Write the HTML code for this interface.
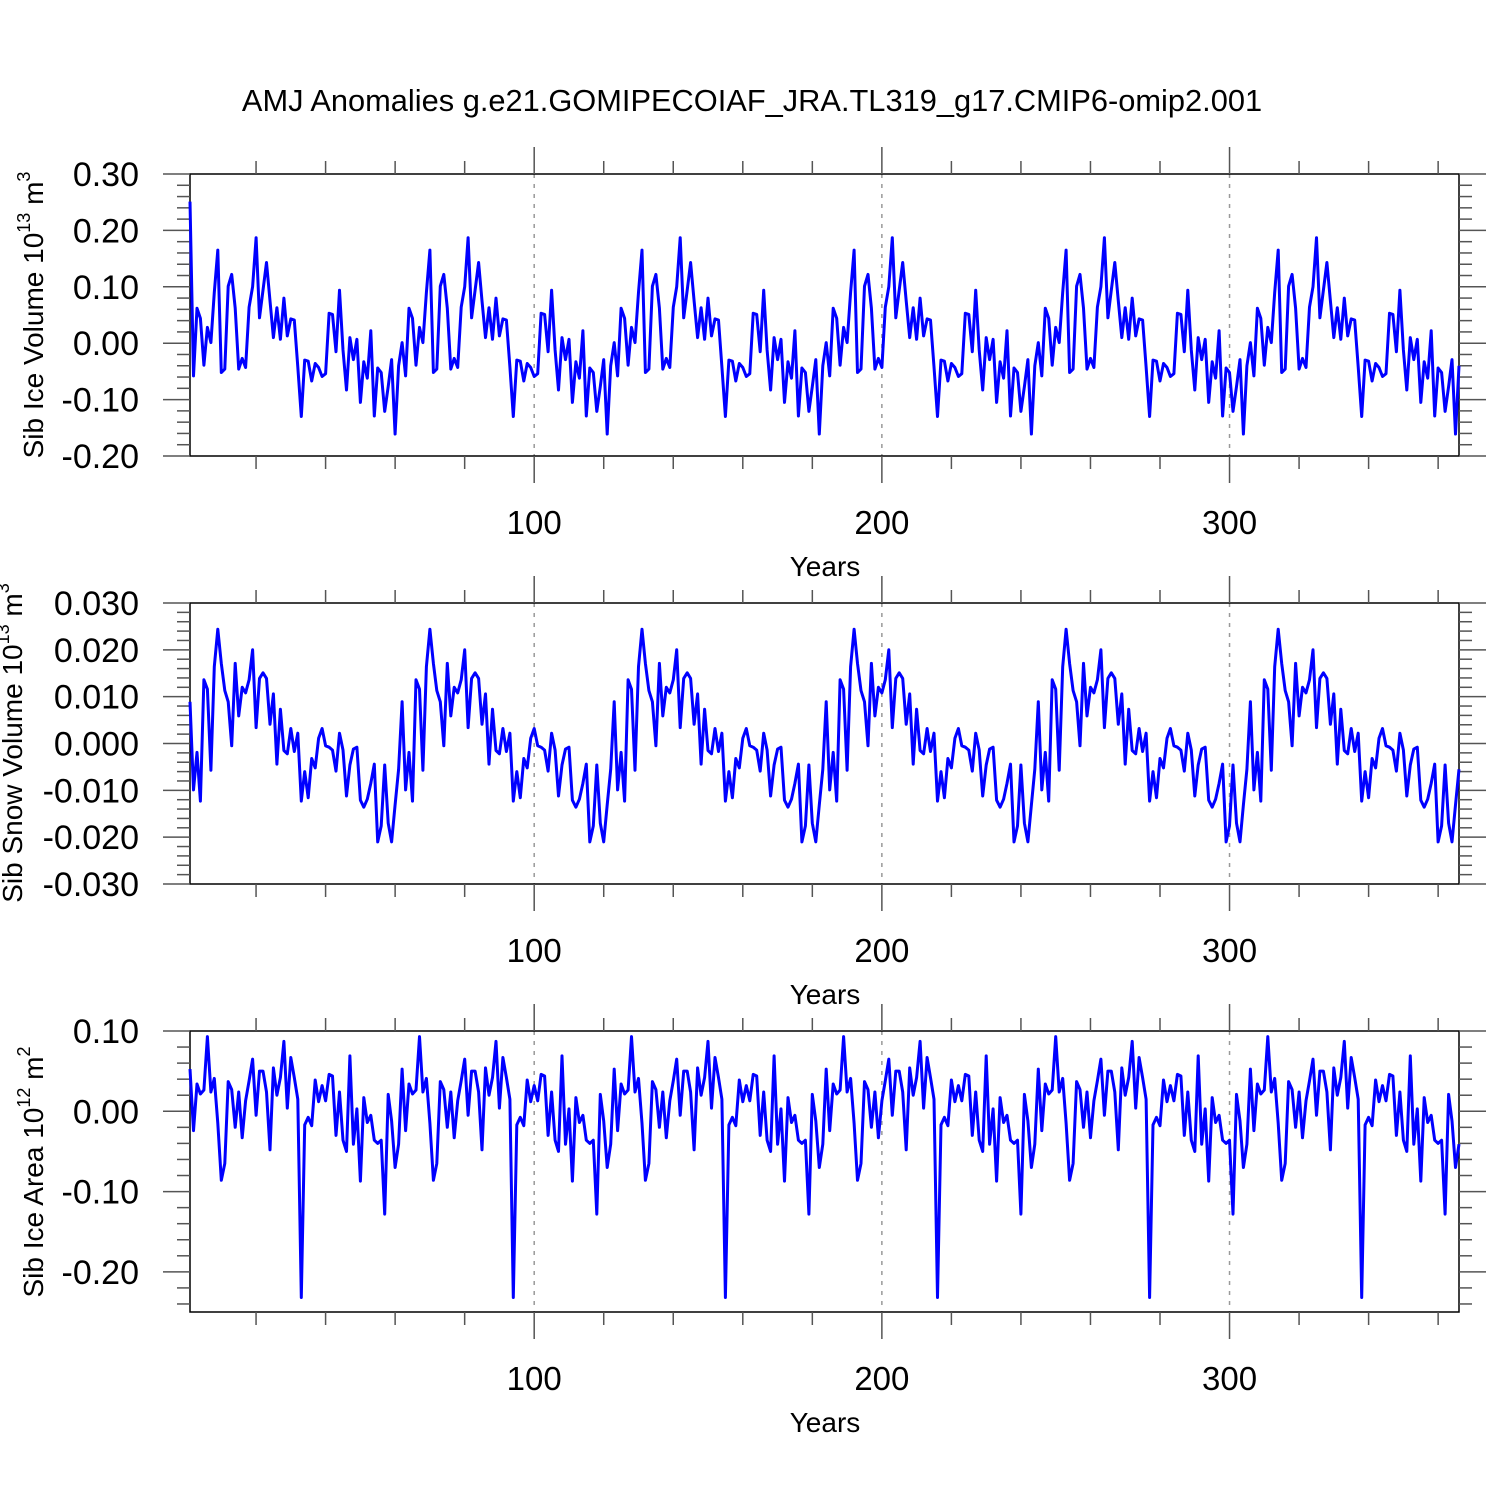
<!DOCTYPE html>
<html><head><meta charset="utf-8"><style>
body{margin:0;background:#fff}
svg text{font-family:"Liberation Sans",Arial,sans-serif;fill:#000}
</style></head><body>
<svg id="chart" width="1500" height="1500" viewBox="0 0 1500 1500" xmlns="http://www.w3.org/2000/svg">
<rect width="1500" height="1500" fill="#fff"/>
<text x="752" y="111" font-size="30.8" text-anchor="middle">AMJ Anomalies g.e21.GOMIPECOIAF_JRA.TL319_g17.CMIP6-omip2.001</text>
</svg>
<script>
// one 61-year forcing cycle per variable (years 1..61), repeated 6 times (366 years)
const iceVolCycle = [0.001,-0.058,0.062,0.044,-0.039,0.028,0.001,0.09,0.165,-0.052,-0.046,0.101,0.122,0.062,-0.046,-0.027,-0.043,0.064,0.100,0.187,0.045,0.094,0.143,0.075,0.010,0.063,0.007,0.080,0.013,0.043,0.041,-0.042,-0.130,-0.03,-0.032,-0.067,-0.036,-0.043,-0.059,-0.054,0.053,0.051,-0.015,0.094,-0.012,-0.083,0.010,-0.029,0.007,-0.105,-0.033,-0.062,0.022,-0.129,-0.044,-0.052,-0.121,-0.077,-0.029,-0.161,-0.040];
const iceVolFirstYear = 0.251;
const snowVolCycle = [0.0089,-0.0099,-0.0019,-0.0123,0.0136,0.0116,-0.0057,0.0164,0.0244,0.0171,0.0113,0.0089,-0.0005,0.0171,0.0059,0.0120,0.0108,0.0136,0.0200,0.0034,0.0139,0.0151,0.0139,0.0041,0.0106,-0.0044,0.0073,-0.0015,-0.0022,0.0032,-0.0017,0.0022,-0.0123,-0.0060,-0.0116,-0.0032,-0.0052,0.0011,0.0032,-0.0005,-0.0008,-0.0014,-0.0059,0.0022,-0.0014,-0.0112,-0.0046,-0.0012,-0.0008,-0.0121,-0.0136,-0.0119,-0.0085,-0.0044,-0.0210,-0.0176,-0.0046,-0.0170,-0.0210,-0.0131,-0.0055];
const iceAreaCycle = [0.0526,-0.024,0.034,0.0215,0.0265,0.093,0.024,0.041,-0.015,-0.086,-0.065,0.037,0.027,-0.020,0.024,-0.033,0.013,0.038,0.065,-0.005,0.050,0.050,0.024,-0.048,0.054,0.020,0.042,0.087,0.004,0.067,0.042,0.015,-0.232,-0.017,-0.0075,-0.018,0.039,0.012,0.032,0.013,0.046,0.044,-0.030,0.024,-0.036,-0.050,0.069,-0.041,0.003,-0.087,0.017,-0.014,-0.005,-0.036,-0.040,-0.036,-0.128,0.021,-0.012,-0.070,-0.041];
const nYears = 366;
const xTickValues = [100,200,300];
const xTickLabels = ["100","200","300"];
const iceVolTicks = ["0.30","0.20","0.10","0.00","-0.10","-0.20"];
const snowVolTicks = ["0.030","0.020","0.010","0.000","-0.010","-0.020","-0.030"];
const iceAreaTicks = ["0.10","0.00","-0.10","-0.20"];

function expand(cycle){const out=[];for(let y=1;y<=nYears;y++)out.push(cycle[(y-1)%cycle.length]);return out;}
const iceVol = expand(iceVolCycle); iceVol[0] = iceVolFirstYear;
const snowVol = expand(snowVolCycle);
const iceArea = expand(iceAreaCycle);

const svg=document.getElementById('chart');
const NS='http://www.w3.org/2000/svg';
function mk(tag,attrs,parent){const e=document.createElementNS(NS,tag);for(const k in attrs)e.setAttribute(k,attrs[k]);(parent||svg).appendChild(e);return e;}
const L=190,R=1459;
const xS=yr=>L+(yr-1)*(R-L)/(nYears-1);

function panel(name,top,bot,yMax,yMin,majorStep,minorStep,tickLabels,data,titleHTML,titleX,titleY){
  const g=mk('g',{});
  
  
  const yS=v=>top+(yMax-v)*(bot-top)/(yMax-yMin);
  xTickValues.forEach(v=>{const l=mk('line',{x1:xS(v),x2:xS(v),y1:top,y2:bot,stroke:'#999','stroke-width':1.5,'stroke-dasharray':'4 6'},g);
    
    });
  const fr=mk('rect',{x:L,y:top,width:R-L,height:bot-top,fill:'none',stroke:'#000','stroke-width':1.5},g);
  
  
  for(let yr=20;yr<=360;yr+=20){const maj=yr%100===0;const len=maj?27:13;
    mk('line',{x1:xS(yr),x2:xS(yr),y1:top,y2:top-len,stroke:'#555','stroke-width':1.5},g);
    mk('line',{x1:xS(yr),x2:xS(yr),y1:bot,y2:bot+len,stroke:'#555','stroke-width':1.5},g);}
  xTickValues.forEach((v,i)=>{const t=mk('text',{x:xS(v),y:bot+78,'font-size':33,'text-anchor':'middle'},g);t.textContent=xTickLabels[i];
    
    });
  const xt=mk('text',{x:825,y:bot+120,'font-size':28,'text-anchor':'middle'},g);xt.textContent='Years';
  
  
  const nMin=Math.floor((yMax-yMin)/minorStep+1e-6);
  for(let i=0;i<=nMin;i++){const v=yMax-i*minorStep;const maj=Math.abs(v/majorStep-Math.round(v/majorStep))<1e-6;const len=maj?27:13;const y=yS(v);
    mk('line',{x1:L,x2:L-len,y1:y,y2:y,stroke:'#555','stroke-width':1.5},g);
    mk('line',{x1:R,x2:R+len,y1:y,y2:y,stroke:'#555','stroke-width':1.5},g);}
  tickLabels.forEach(s=>{const t=mk('text',{x:139,y:yS(parseFloat(s))+12,'font-size':34,'text-anchor':'end'},g);t.textContent=s;
    
    });
  const yt=mk('text',{x:0,y:0,'font-size':28,'text-anchor':'middle',transform:`translate(${titleX},${titleY}) rotate(-90)`},g);
  yt.innerHTML=titleHTML;
  
  
  const pts=data.map((v,i)=>xS(i+1).toFixed(1)+','+yS(v).toFixed(1)).join(' ');
  const pl=mk('polyline',{points:pts,fill:'none',stroke:'#0000ff','stroke-width':3,'stroke-linejoin':'round'},g);
  
  
}
const sup='<tspan font-size="18" dy="-13">';
panel('sib-ice-volume',174,456,0.30,-0.20,0.1,0.02,iceVolTicks,iceVol,'Sib Ice Volume 10'+sup+'13</tspan><tspan dy="13"> m</tspan>'+sup+'3</tspan>',43,315);
panel('sib-snow-volume',603,884,0.030,-0.030,0.01,0.002,snowVolTicks,snowVol,'Sib Snow Volume 10'+sup+'13</tspan><tspan dy="13"> m</tspan>'+sup+'3</tspan>',22,743);
panel('sib-ice-area',1031,1312,0.10,-0.25,0.1,0.02,iceAreaTicks,iceArea,'Sib Ice Area 10'+sup+'12</tspan><tspan dy="13"> m</tspan>'+sup+'2</tspan>',43,1172);
</script>
</body></html>
